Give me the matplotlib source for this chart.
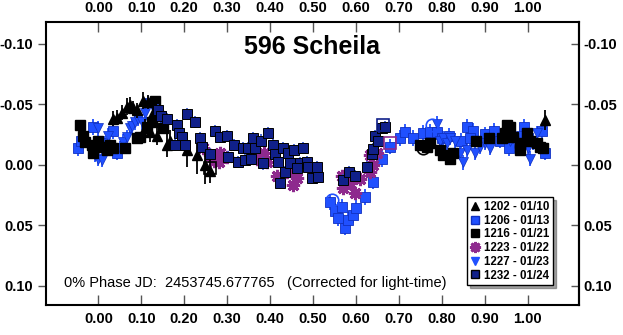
import matplotlib
matplotlib.use("Agg")
import matplotlib.pyplot as plt
from matplotlib.lines import Line2D
import numpy as np

plt.rcParams['font.family'] = ['Liberation Sans', 'DejaVu Sans']

# ---- data (phase, reduced magnitude) ----
# 1202 - 01/10  black triangles up
ph_1202 = [0.034, 0.044, 0.055, 0.067, 0.074, 0.081, 0.090, 0.104, 0.116, 0.128,
           0.109, 0.121, 0.137, 0.160, 0.168, 0.206, 0.230, 0.249, 0.260, 1.041]
mag_1202 = [-0.038, -0.039, -0.043, -0.048, -0.049, -0.047, -0.045, -0.053, -0.052, -0.043,
            -0.030, -0.027, -0.024, -0.016, -0.020, -0.012, -0.008, 0.000, 0.005, -0.037]
err_1202 = [0.006, 0.006, 0.006, 0.007, 0.007, 0.006, 0.006, 0.007, 0.006, 0.006,
            0.008, 0.008, 0.008, 0.010, 0.009, 0.014, 0.016, 0.016, 0.010, 0.008]

# 1206 - 01/13  blue squares
ph_1206 = [-0.047, -0.040, -0.012, 0.034, 0.044,
           0.540, 0.552, 0.559, 0.568, 0.575, 0.582, 0.594, 0.600, 0.622, 0.640, 0.661,
           0.680, 0.703, 0.715, 0.734, 0.757, 0.773, 0.789, 0.801,
           0.818, 0.845, 0.859, 0.874, 0.866, 0.900, 0.921, 0.935, 0.956, 0.991, 1.000,
           1.034, 1.041]
mag_1206 = [-0.014, -0.020, -0.031, -0.028, -0.010,
            0.031, 0.038, 0.044, 0.035, 0.052, 0.046, 0.042, 0.036, 0.027, 0.014, -0.005,
            -0.015, -0.022, -0.027, -0.022, -0.026, -0.027, -0.027, -0.022,
            -0.024, -0.020, -0.031, -0.028, -0.022, -0.025, -0.028, -0.020, -0.014, -0.031, -0.022,
            -0.028, -0.010]

# 1216 - 01/21  black squares
ph_1216 = [-0.043, -0.036, -0.031, -0.015, -0.012, 0.000, 0.009, 0.020, 0.027, 0.034,
           0.062, 0.090, 0.097, 0.113, 0.125, 0.132, 0.142, 0.150,
           0.750, 0.766, 0.773, 0.796, 0.803, 0.820, 0.827, 0.880, 0.910, 0.940,
           0.952, 0.959, 0.948, 0.967, 0.983, 0.983, 0.999, 1.006, 1.022, 1.029, 1.036]
mag_1216 = [-0.033, -0.024, -0.019, -0.016, -0.010, -0.020, -0.015, -0.012, -0.016, -0.014,
            -0.014, -0.022, -0.023, -0.031, -0.035, -0.053, -0.040, -0.030,
            -0.016, -0.015, -0.018, -0.012, -0.008, -0.005, -0.010, -0.020, -0.022, -0.022,
            -0.033, -0.031, -0.026, -0.023, -0.018, -0.012, -0.026, -0.020, -0.018, -0.015, -0.014]

# 1223 - 01/22  purple asterisks
ph_1223 = [0.245, 0.260, 0.270, 0.283, 0.280, 0.300, 0.370, 0.385, 0.393, 0.416, 0.440,
           0.454, 0.463, 0.568, 0.570, 0.598, 0.587, 0.610, 0.634, 0.641, 0.633, 0.650]
mag_1223 = [-0.014, -0.008, -0.003, -0.010, -0.002, -0.006, -0.005, -0.010, -0.002, 0.009, 0.006,
            0.017, 0.011, 0.009, 0.019, 0.023, 0.015, 0.012, -0.008, 0.000, 0.006, -0.010]

# 1227 - 01/23  blue triangles down
ph_1227 = [0.000, 0.004, 0.016, -0.008, 0.000, 0.009, 0.023, 0.051, 0.058, 0.067, 0.074,
           0.079, 0.086, 0.093, 0.102, 0.109, 0.116, 0.130, 0.145,
           0.790, 0.797, 0.804, 0.812, 0.820, 0.832, 0.843, 0.850, 0.859, 0.877, 0.890,
           0.902, 0.913, 0.960, 0.985, 1.002, 1.006, 1.013, 1.022]
mag_1227 = [-0.030, -0.018, -0.018, -0.008, -0.005, -0.004, -0.024, -0.014, -0.019, -0.023, -0.030,
            -0.032, -0.035, -0.038, -0.035, -0.043, -0.051, -0.046, -0.040,
            -0.034, -0.020, -0.022, -0.018, -0.022, -0.020, -0.010, -0.002, -0.012, -0.010, -0.015,
            -0.018, -0.014, -0.020, -0.024, -0.014, -0.005, -0.018, -0.026]

# 1232 - 01/24  navy squares
ph_1232 = [0.139, 0.145, 0.160, 0.183, 0.206, 0.225, 0.187, 0.195, 0.179, 0.202, 0.237,
           0.242, 0.260, 0.272, 0.283, 0.300, 0.315, 0.302, 0.326, 0.342, 0.338, 0.349,
           0.356, 0.361, 0.366, 0.378, 0.396, 0.408, 0.412, 0.431, 0.443, 0.455, 0.477,
           0.384, 0.419, 0.435, 0.423, 0.446, 0.470, 0.486, 0.463, 0.489, 0.509, 0.497,
           0.511, 0.571, 0.583, 0.598, 0.625, 0.637, 0.640, 0.645, 0.652, 0.661, 0.668]
mag_1232 = [-0.045, -0.040, -0.038, -0.033, -0.042, -0.035, -0.026, -0.023, -0.016, -0.016, -0.022,
            -0.015, -0.009, -0.028, -0.023, -0.024, -0.016, -0.006, -0.002, -0.004, -0.014, -0.014,
            -0.005, -0.022, -0.014, -0.020, -0.026, -0.016, -0.009, -0.014, -0.010, -0.012, -0.014,
            -0.001, -0.002, 0.006, 0.015, -0.001, -0.001, -0.002, 0.003, 0.002, 0.002, 0.011,
            0.010, 0.013, 0.006, 0.009, 0.002, -0.009, -0.013, -0.024, -0.020, -0.030, -0.031]

# hollow markers
open_ph = [0.260, 0.545, 0.778, 0.757, 0.663, 0.680]
open_mag = [0.003, 0.029, -0.033, -0.014, -0.033, -0.018]
open_marker = ['s', 'o', 'o', 'o', 's', 's']
open_color = ['black', '#2050ff', '#2050ff', 'black', '#10208a', '#8e2a8e']

labels = ["1202 - 01/10", "1206 - 01/13", "1216 - 01/21",
          "1223 - 01/22", "1227 - 01/23", "1232 - 01/24"]
xticks = [0.0, 0.1, 0.2, 0.3, 0.4, 0.5, 0.6, 0.7, 0.8, 0.9, 1.0]
yticks = [-0.10, -0.05, 0.00, 0.05, 0.10]

BLUE = '#2050ff'
NAVY = '#10208a'
PURPLE = '#8e2a8e'

fig = plt.figure(figsize=(6.23, 3.35), dpi=100)
ax = fig.add_axes([0.0738, 0.0896, 0.8556, 0.8448])

# draw the series
ax.errorbar(ph_1206, mag_1206, yerr=0.0065, fmt='s', color=BLUE, ms=6.5,
            mec='#1030c0', mew=0.6, elinewidth=1.3, capsize=0, zorder=3)
ax.errorbar(ph_1227, mag_1227, yerr=0.006, fmt='v', color=BLUE, ms=6.5,
            mec='#1030c0', mew=0.5, elinewidth=1.3, capsize=0, zorder=3)
ax.errorbar(ph_1216, mag_1216, yerr=0.004, fmt='s', color='black', ms=7,
            elinewidth=1.3, capsize=0, zorder=4)
ax.plot(ph_1223, mag_1223, ls='none', marker=(8, 2, 0), ms=9.5, mew=2.2,
        color=PURPLE, zorder=4)
ax.errorbar(ph_1202, mag_1202, yerr=err_1202, fmt='^', color='black', ms=6.5,
            elinewidth=1.3, capsize=0, zorder=5)
ax.errorbar(ph_1232, mag_1232, yerr=0.005, fmt='s', color=NAVY, ms=6.8,
            mec='black', mew=0.7, ecolor='#3050d0', elinewidth=1.2, capsize=0, zorder=5)
for p, m, mk, c in zip(open_ph, open_mag, open_marker, open_color):
    ax.plot(p, m, ls='none', marker=mk, ms=9, mfc='none', mec=c, mew=1.2, zorder=6)

ax.set_xlim(-0.122, 1.12)
ax.set_ylim(0.116, -0.118)

ax.set_xticks(xticks)
ax.set_xticklabels(["%.2f" % t for t in xticks])
ax.set_yticks(yticks)
ax.set_yticklabels(["%.2f" % t for t in yticks])

ax.tick_params(axis='x', which='both', direction='in', length=7, width=1, color='#555555',
               top=True, bottom=True, labeltop=True, labelbottom=True, pad=5)
ax.tick_params(axis='y', which='both', length=6, width=1, color='#555555',
               left=True, right=False, labelleft=True, pad=3)
for lbl in ax.get_xticklabels() + ax.get_yticklabels():
    lbl.set_fontweight('bold')
    lbl.set_fontsize(10.5)

# right-hand y axis: ticks inside, labels outside
ax2 = ax.secondary_yaxis('right')
ax2.set_yticks(yticks)
ax2.set_yticklabels(["%.2f" % t for t in yticks])
ax2.tick_params(direction='in', length=6, width=1, color='#555555', pad=3)
for lbl in ax2.get_yticklabels():
    lbl.set_fontweight('bold')
    lbl.set_fontsize(10.5)
ax2.spines['right'].set_linewidth(1.5)

for s in ax.spines.values():
    s.set_linewidth(1.5)

ax.text(0.5, 0.912, "596 Scheila", transform=ax.transAxes, ha='center', va='center',
        fontsize=18, fontweight='bold')
ax.text(0.034, 0.078, "0% Phase JD:  2453745.677765   (Corrected for light-time)",
        transform=ax.transAxes, ha='left', va='center', fontsize=10.5)

handles = [
    Line2D([], [], ls='none', marker='^', color='black', ms=6),
    Line2D([], [], ls='none', marker='s', color=BLUE, mec='#1030c0', ms=6),
    Line2D([], [], ls='none', marker='s', color='black', ms=6),
    Line2D([], [], ls='none', marker=(8, 2, 0), color=PURPLE, ms=8, mew=2),
    Line2D([], [], ls='none', marker='v', color=BLUE, ms=6),
    Line2D([], [], ls='none', marker='s', color=NAVY, mec='black', ms=6),
]
leg = ax.legend(handles, labels, loc='lower right', bbox_to_anchor=(0.951, 0.0707),
                borderaxespad=0, fancybox=False, shadow=True, framealpha=1,
                edgecolor='black', handlelength=0.8, handletextpad=0.4,
                labelspacing=0.15, borderpad=0.3,
                prop={'weight': 'bold', 'size': 8.3})
leg.get_frame().set_linewidth(1.0)

fig.savefig("out.png", dpi=100)
